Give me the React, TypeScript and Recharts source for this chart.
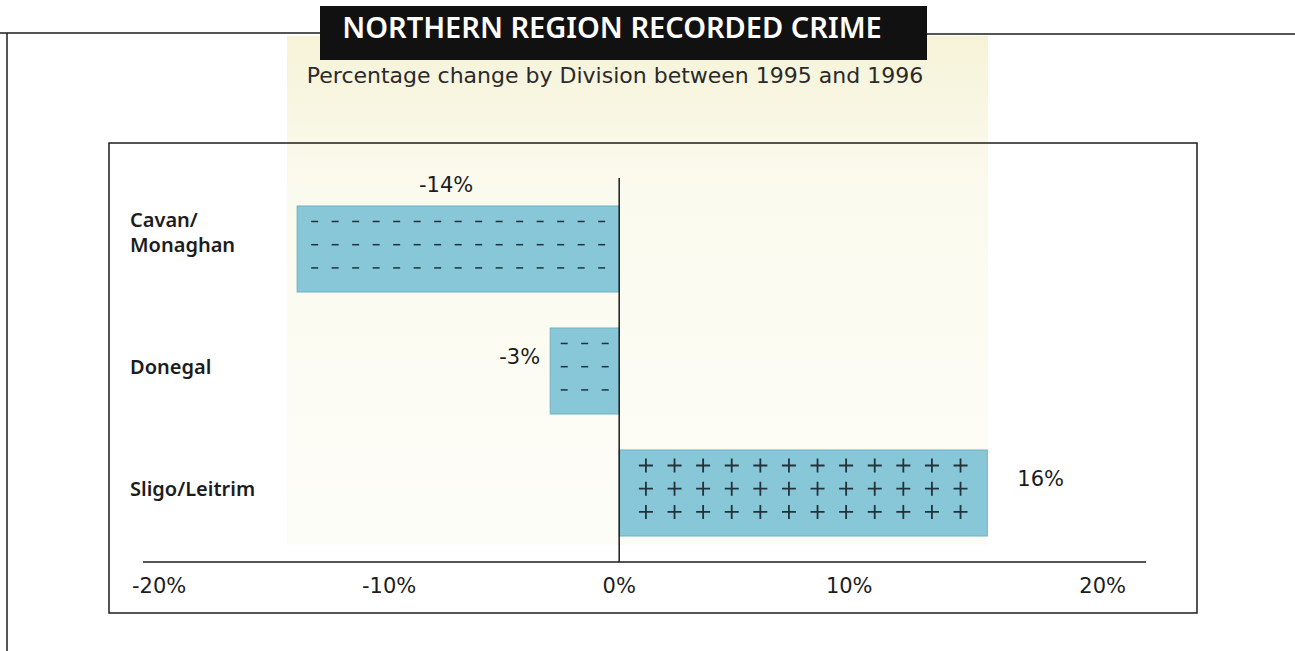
import React from "react";
import { BarChart, Bar, XAxis, YAxis, ReferenceLine } from "recharts";

// divisions and their % change 1995 -> 1996
const divisions = ["Cavan/\nMonaghan", "Donegal", "Sligo/Leitrim"];
const changePct = [-14, -3, 16];
const xTicks = [-20, -10, 0, 10, 20];
const xDomain = [-20.7, 22.9];

const chartData = divisions.map((name, i) => ({ name, change: changePct[i] }));

// where each value label sits relative to its bar
const labelPlacement = ["top", "left", "right"];

const FONT = "'DejaVu Sans', sans-serif";
const LABEL_FONT = "'Noto Sans', 'DejaVu Sans', sans-serif";
const INK = "#1c1c1c";
const BAR_FILL = "#88c7d7";
const LABEL_X = 130;

const PatternBar = (props: any) => {
  const { x, y, width, height, index, payload } = props;
  const value = payload.change;
  const left = Math.min(x, x + width);
  const right = Math.max(x, x + width);
  const w = right - left;
  const plus = value >= 0;
  const step = plus ? 28.6 : 20.5;
  const pad = plus ? 15 : 10;
  const cols = Math.max(1, Math.floor((w - 2 * pad) / step) + 1);
  const x0 = left + (w - (cols - 1) * step) / 2;
  const rows = [0.18, 0.45, 0.72].map((f) => y + height * f);

  const marks: React.ReactNode[] = [];
  rows.forEach((ry, r) => {
    for (let c = 0; c < cols; c++) {
      const cx = x0 + c * step;
      const d = plus
        ? `M${cx - 7},${ry}H${cx + 7}M${cx},${ry - 7}V${ry + 7}`
        : `M${cx - 3.5},${ry}H${cx + 3.5}`;
      marks.push(<path key={`${r}-${c}`} d={d} />);
    }
  });

  // value label
  const place = labelPlacement[index];
  const cy = y + height / 2;
  let tx = (left + right) / 2 - 12;
  let ty = y - 14;
  let anchor: "middle" | "end" | "start" = "middle";
  if (place === "left") {
    tx = left - 10;
    ty = cy - 7;
    anchor = "end";
  } else if (place === "right") {
    tx = right + 30;
    ty = cy - 7;
    anchor = "start";
  }

  return (
    <g>
      <rect x={left} y={y} width={w} height={height} fill={BAR_FILL} stroke="#6fb2c4" strokeWidth={1} />
      <g stroke="#22323a" strokeWidth={plus ? 1.8 : 1.5} fill="none">
        {marks}
      </g>
      <text x={tx} y={ty} textAnchor={anchor} fontSize={21} fill={INK} fontFamily={FONT}>
        {`${value}%`}
      </text>
    </g>
  );
};

const DivisionTick = (props: any) => {
  const { y, payload } = props;
  const lines = String(payload.value).split("\n");
  const lh = 25;
  const first = y + 3 - (lines.length - 1) * lh;
  return (
    <g>
      {lines.map((ln, i) => (
        <text
          key={i}
          x={LABEL_X}
          y={first + i * lh}
          textAnchor="start"
          fontSize={20}
          fontWeight={600}
          fill={INK}
          fontFamily={LABEL_FONT}
        >
          {ln}
        </text>
      ))}
    </g>
  );
};

const PctTick = (props: any) => {
  const { x, y, payload } = props;
  const last = payload.value === xTicks[xTicks.length - 1];
  return (
    <text x={x} y={y} dy={23} textAnchor={last ? "start" : "middle"} fontSize={21} fill={INK} fontFamily={FONT}>
      {`${payload.value}%`}
    </text>
  );
};

export default function App() {
  return (
    <div style={{ position: "absolute", left: 0, top: 0, width: 1295, height: 651, background: "#fff" }}>
      <svg width={1295} height={651} style={{ position: "absolute", left: 0, top: 0 }}>
        <defs>
          <linearGradient id="cream" x1="0" y1="0" x2="0" y2="1">
            <stop offset="0" stopColor="#f6f3d8" />
            <stop offset="0.3" stopColor="#fbfaee" />
            <stop offset="1" stopColor="#fdfdf8" />
          </linearGradient>
        </defs>
        <rect x={287} y={36} width={701} height={509} fill="url(#cream)" />
        <g stroke={INK} strokeWidth={1.5} fill="none">
          <line x1={0} y1={33} x2={320} y2={33} />
          <line x1={927} y1={34} x2={1295} y2={34} />
          <line x1={7} y1={33} x2={7} y2={651} />
          <rect x={109} y={143} width={1088} height={470} />
        </g>
        <rect x={320} y={6} width={607} height={54} fill="#111" />
        <text x={612} y={38} textAnchor="middle" fontSize={29} fontWeight={600} fill="#fff" fontFamily={LABEL_FONT}>
          NORTHERN REGION RECORDED CRIME
        </text>
        <text x={615} y={83} textAnchor="middle" fontSize={22} fill="#2a2a2a" fontFamily={FONT}>
          Percentage change by Division between 1995 and 1996
        </text>
      </svg>
      <div style={{ position: "absolute", left: 0, top: 0 }}>
        <BarChart
          width={1295}
          height={651}
          data={chartData}
          layout="vertical"
          margin={{ top: 178, right: 149, bottom: 59, left: 142 }}
          barSize={86}
        >
          <XAxis
            type="number"
            domain={xDomain}
            ticks={xTicks}
            allowDataOverflow
            interval={0}
            height={30}
            axisLine={{ stroke: INK, strokeWidth: 1.5 }}
            tickLine={false}
            tick={<PctTick />}
          />
          <YAxis
            type="category"
            dataKey="name"
            width={1}
            interval={0}
            axisLine={false}
            tickLine={false}
            tick={<DivisionTick />}
            padding={{ top: 10, bottom: 8 }}
          />
          <Bar dataKey="change" shape={<PatternBar />} isAnimationActive={false} />
          <ReferenceLine x={0} stroke={INK} strokeWidth={1.5} />
        </BarChart>
      </div>
    </div>
  );
}
